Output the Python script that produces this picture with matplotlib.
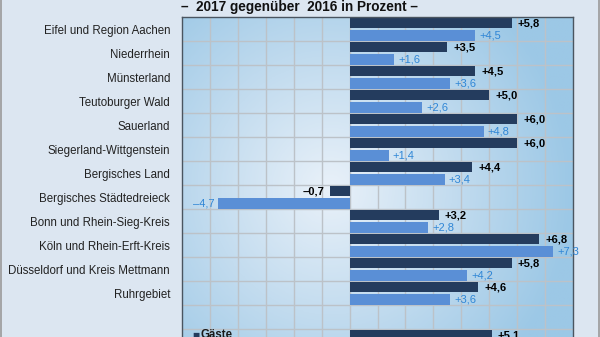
import numpy as np
import matplotlib
matplotlib.use("Agg")
import matplotlib.pyplot as plt
from matplotlib.colors import LinearSegmentedColormap
from matplotlib.lines import Line2D

plt.rcParams['font.family'] = ['Liberation Sans', 'DejaVu Sans']

categories = ["Eifel und Region Aachen", "Niederrhein", "Münsterland", "Teutoburger Wald",
              "Sauerland", "Siegerland-Wittgenstein", "Bergisches Land",
              "Bergisches Städtedreieck", "Bonn und Rhein-Sieg-Kreis",
              "Köln und Rhein-Erft-Kreis", "Düsseldorf und Kreis Mettmann",
              "Ruhrgebiet", "", "NRW insgesamt"]
gaeste = [5.8, 3.5, 4.5, 5.0, 6.0, 6.0, 4.4, -0.7, 3.2, 6.8, 5.8, 4.6, None, 5.1]
uebernachtungen = [4.5, 1.6, 3.6, 2.6, 4.8, 1.4, 3.4, -4.7, 2.8, 7.3, 4.2, 3.6, None, 3.6]
series_names = ["Gäste", "Übernachtungen"]
title = "–  2017 gegenüber  2016 in Prozent –"
xmin, xmax = -6, 8

dark = "#243c5e"
light = "#5a8fd6"
light_txt = "#2f86d6"

W, H = 600, 337
fig = plt.figure(figsize=(W / 100, H / 100), dpi=100)
fig.patch.set_facecolor("#dce6f1")

n = len(categories)
top_px, row_px = 17, 24
left_px, right_px = 182, 573
ax_h_px = row_px * n
ax_bottom = (H - (top_px + ax_h_px)) / H
ax = fig.add_axes([left_px / W, ax_bottom, (right_px - left_px) / W, ax_h_px / H])

ax.set_xlim(xmin, xmax)
ax.set_ylim(n - 0.5, -0.5)

# radial gradient background
gx = np.linspace(0, 1, 300)
gy = np.linspace(0, 1, 300)
X, Y = np.meshgrid(gx, gy)
cx, cy = 0.38, 0.49
R = np.sqrt(((X - cx) / 0.62) ** 2 + ((Y - cy) / 0.75) ** 2)
R = np.clip(R, 0, 1)
cmap = LinearSegmentedColormap.from_list("bg", ["#e9f1f9", "#c3dcef", "#9cc8e6"])
ax.imshow(R, cmap=cmap, extent=[0, 1, 0, 1], transform=ax.transAxes,
          aspect="auto", zorder=0, origin="lower")

# grid
for xv in range(xmin + 1, xmax):
    ax.axvline(xv, color="#bcc2c8", lw=1.0, zorder=0.5)
for i in range(n - 1):
    ax.axhline(i + 0.5, color="#bcc2c8", lw=1.0, zorder=0.5)

def fmt(v):
    s = f"{abs(v):.1f}".replace(".", ",")
    return ("+" if v >= 0 else "–") + s

ys = np.arange(n)
off_d, off_l, hgt = -0.25, 0.27, 0.44
for i in range(n):
    g, u = gaeste[i], uebernachtungen[i]
    if g is not None:
        ax.barh(i + off_d, g, height=hgt, color=dark, zorder=2)
        ax.annotate(fmt(g), (g, i + off_d), xytext=(4.3 if g >= 0 else -4.3, 0),
                    textcoords="offset points", ha="left" if g >= 0 else "right",
                    va="center", fontsize=8, fontweight="bold", color="black", zorder=3)
    if u is not None:
        ax.barh(i + off_l, u, height=hgt, color=light, zorder=2)
        ax.annotate(fmt(u), (u, i + off_l), xytext=(3 if u >= 0 else -3, 0),
                    textcoords="offset points", ha="left" if u >= 0 else "right",
                    va="center", fontsize=8, color=light_txt, zorder=3)

ax.set_yticks(ys)
ax.set_yticklabels(categories, fontsize=8.3, color="#222222")
ax.tick_params(axis="y", length=0, pad=8.6)
ax.set_xticks([])
for s in ["top", "left", "right"]:
    ax.spines[s].set_color("#4a5560")
    ax.spines[s].set_linewidth(1.0)
ax.spines["bottom"].set_visible(False)

# legend inside NRW row
leg_x = -5.62
ax.text(leg_x, n - 1 + off_d, "■", fontsize=5.5, color=dark, va="center", ha="left",
        family=['DejaVu Sans'], zorder=3)
ax.text(leg_x + 0.27, n - 1 + off_d, series_names[0], fontsize=8.3, fontweight="bold",
        color="#1a1a1a", va="center", ha="left", zorder=3)
ax.text(leg_x, n - 1 + off_l, "■", fontsize=5.5, color=light, va="center", ha="left",
        family=['DejaVu Sans'], zorder=3)
ax.text(leg_x + 0.27, n - 1 + off_l, series_names[1], fontsize=8.3, fontweight="bold",
        color="#1a1a1a", va="center", ha="left", zorder=3)

fig.text(299 / W, 1 - 7.5 / H, title, ha="center", va="center", fontsize=9.8,
         fontweight="bold", color="#111111")

# outer frame lines
fig.add_artist(Line2D([0.8 / W, 0.8 / W], [0, 1], transform=fig.transFigure,
                      color="#9a9a9a", lw=1.2))
fig.add_artist(Line2D([1 - 1.2 / W, 1 - 1.2 / W], [0, 1], transform=fig.transFigure,
                      color="#9a9a9a", lw=1.2))

fig.savefig("out.png", dpi=100, facecolor=fig.get_facecolor())
